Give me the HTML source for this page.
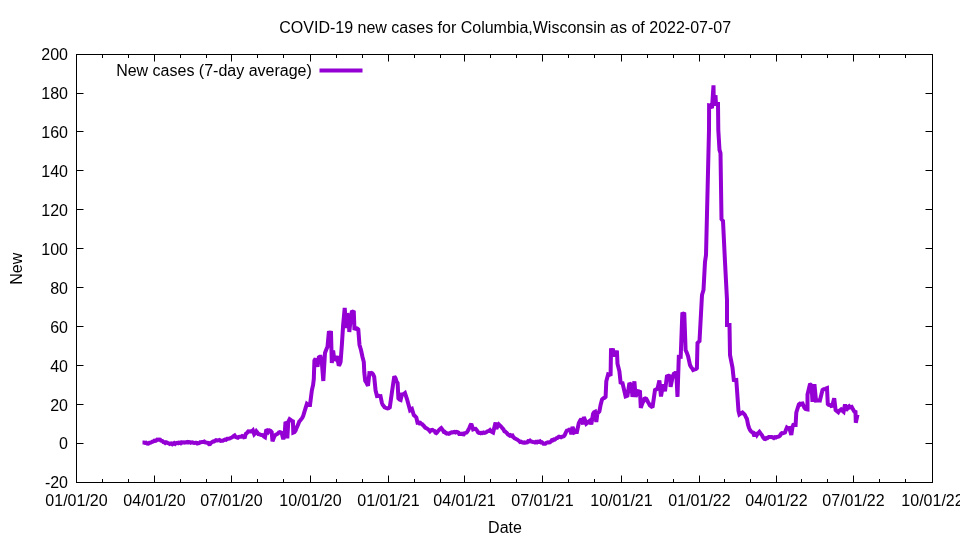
<!DOCTYPE html>
<html><head><meta charset="utf-8"><style>
html,body{margin:0;padding:0;background:#fff;width:960px;height:540px;overflow:hidden}
svg{display:block;will-change:transform}
text{font-family:"Liberation Sans", Arial, sans-serif;font-size:16px;fill:#000}
</style></head><body>
<svg width="960" height="540" viewBox="0 0 960 540">
<rect width="960" height="540" fill="#fff"/>
<text x="505.2" y="33" text-anchor="middle">COVID-19 new cases for Columbia,Wisconsin as of 2022-07-07</text>
<text x="311.8" y="76" text-anchor="end">New cases (7-day average)</text>
<path d="M319.5,70.5H362.5" stroke="#9400d3" stroke-width="4"/>
<path d="M142.5,442.4 L143.8,442.4 L145.0,442.9 L146.1,442.7 L147.2,443.6 L148.3,443.7 L149.4,442.7 L150.5,442.7 L151.4,442.3 L152.4,441.7 L153.3,441.5 L154.2,440.7 L155.1,441.0 L156.0,440.7 L157.1,439.7 L158.1,439.8 L159.2,439.5 L160.1,439.6 L161.0,440.7 L162.2,440.9 L163.3,442.0 L164.2,442.1 L165.2,442.9 L166.1,442.3 L167.1,442.6 L168.0,443.2 L168.9,443.4 L169.8,443.9 L170.7,443.5 L171.5,443.4 L172.4,444.2 L173.3,443.7 L174.2,443.1 L175.2,443.9 L176.1,443.1 L177.1,442.9 L178.0,443.2 L178.9,442.6 L179.8,442.7 L180.7,443.2 L181.5,442.3 L182.4,442.6 L183.3,442.4 L184.2,442.6 L185.2,442.3 L186.1,442.5 L187.1,442.0 L188.0,442.5 L188.9,442.0 L189.8,442.2 L190.7,442.8 L191.5,442.5 L192.4,442.4 L193.3,442.7 L194.3,442.9 L195.3,442.8 L196.3,442.8 L197.3,443.5 L198.3,443.2 L199.2,443.1 L200.1,442.2 L201.0,442.2 L202.1,442.1 L203.1,441.8 L204.2,441.5 L205.1,442.4 L206.1,442.6 L207.0,442.7 L208.0,442.9 L209.0,444.1 L210.0,444.0 L211.0,442.7 L212.0,442.2 L213.0,441.5 L214.0,441.5 L215.0,440.8 L216.1,440.2 L217.2,440.5 L218.3,440.4 L219.4,440.0 L220.6,440.9 L221.7,440.8 L222.8,440.7 L223.9,440.1 L225.0,439.6 L226.1,439.8 L227.2,438.8 L228.3,438.8 L229.4,438.6 L230.6,438.0 L231.7,437.5 L232.7,436.9 L233.6,436.0 L234.6,435.4 L235.6,436.9 L236.7,437.5 L237.8,437.8 L238.9,436.9 L240.0,436.7 L241.1,436.8 L242.2,435.9 L243.3,436.3 L244.6,438.3 L245.8,433.8 L247.1,432.8 L248.3,431.3 L249.6,431.5 L250.8,431.3 L251.9,431.4 L252.9,430.4 L254.2,434.2 L255.2,433.1 L256.3,431.3 L257.3,432.5 L258.3,434.2 L259.4,434.3 L260.6,434.9 L261.7,435.0 L262.8,435.1 L263.9,436.4 L265.0,437.1 L266.3,429.6 L267.3,430.5 L268.3,432.1 L269.6,430.4 L270.6,430.8 L271.7,432.1 L272.5,441.3 L274.2,436.7 L275.4,434.9 L276.7,434.2 L277.8,433.7 L278.8,432.5 L279.8,432.2 L280.7,432.5 L281.7,432.9 L283.3,439.2 L284.6,435.0 L285.4,423.3 L286.7,422.9 L287.3,438.3 L288.3,421.7 L289.6,419.2 L290.6,419.9 L291.7,420.8 L292.9,421.3 L293.3,432.5 L294.5,432.0 L295.6,430.6 L296.6,427.8 L297.5,425.9 L298.4,423.7 L299.4,421.3 L300.3,420.5 L301.2,419.2 L302.2,418.0 L303.1,416.3 L304.4,411.9 L306.9,403.8 L308.5,405.0 L310.0,405.0 L311.9,390.0 L313.1,385.0 L313.8,379.0 L314.4,360.5 L315.6,358.6 L317.5,366.8 L318.8,357.4 L319.7,356.8 L320.6,356.8 L321.9,363.0 L323.3,381.0 L325.0,353.0 L326.2,349.8 L327.5,346.8 L328.8,332.7 L329.9,332.5 L331.0,332.7 L331.8,363.0 L333.1,350.5 L334.4,360.5 L335.6,358.8 L336.9,356.1 L338.8,365.5 L339.7,364.2 L340.6,361.8 L341.9,344.3 L343.1,325.5 L344.7,308.0 L346.2,328.0 L347.2,313.5 L348.5,317.0 L349.3,332.0 L350.8,318.0 L351.8,312.0 L352.8,311.6 L353.8,312.0 L354.5,330.0 L355.5,328.0 L356.4,328.1 L357.4,328.7 L358.3,329.5 L359.5,345.0 L361.0,350.0 L362.5,357.0 L363.8,362.0 L364.3,372.5 L365.2,380.8 L366.1,382.1 L367.1,384.0 L368.0,385.7 L369.4,373.2 L370.3,373.3 L371.2,372.9 L372.1,373.2 L373.1,374.4 L374.2,376.7 L375.6,390.6 L377.0,396.1 L377.9,396.0 L378.8,395.9 L379.6,396.2 L380.5,396.1 L381.9,403.0 L382.8,405.0 L383.7,406.1 L384.6,407.3 L385.6,407.7 L386.5,408.2 L387.5,408.5 L388.6,408.1 L389.8,407.3 L391.9,392.5 L393.0,385.0 L394.3,376.3 L395.4,378.0 L396.5,381.2 L397.6,383.0 L398.4,398.5 L399.5,399.6 L400.6,400.0 L401.9,394.4 L402.9,394.4 L404.0,393.9 L405.0,393.1 L406.9,398.8 L410.0,410.0 L410.9,409.3 L411.9,408.8 L413.8,415.0 L415.1,416.1 L416.3,417.5 L417.5,422.5 L418.4,422.3 L419.4,423.3 L420.4,422.9 L421.3,423.8 L422.2,424.2 L423.1,425.3 L424.1,426.2 L425.0,427.5 L426.0,428.1 L427.0,428.5 L428.0,429.2 L429.0,430.1 L430.0,431.3 L431.2,430.1 L432.5,429.8 L433.4,430.5 L434.4,430.9 L435.4,432.7 L436.3,433.1 L437.3,432.2 L438.3,430.7 L439.3,429.8 L440.3,428.9 L441.3,428.1 L442.6,429.8 L443.8,431.9 L444.8,431.8 L445.8,433.1 L446.8,433.6 L447.8,433.4 L448.8,433.8 L449.7,433.5 L450.6,432.7 L451.6,432.3 L452.5,432.5 L453.4,432.2 L454.4,431.9 L455.4,432.4 L456.3,431.9 L457.2,432.0 L458.1,432.3 L459.1,433.9 L460.0,433.8 L460.9,434.0 L461.9,433.7 L462.9,434.3 L463.8,434.4 L464.7,433.1 L465.6,432.9 L466.6,432.6 L467.5,431.3 L468.4,429.9 L469.4,427.8 L470.4,425.4 L471.3,423.8 L473.1,429.4 L474.4,428.9 L475.6,428.8 L476.9,430.3 L478.1,432.5 L479.0,432.9 L479.9,432.8 L480.7,433.2 L481.6,432.8 L482.5,433.1 L483.5,432.4 L484.5,432.8 L485.5,432.6 L486.5,432.1 L487.5,431.3 L488.8,431.0 L490.0,430.0 L491.0,431.2 L492.1,432.0 L493.1,432.5 L495.6,422.5 L496.3,428.8 L497.6,426.3 L498.8,424.4 L500.1,425.7 L501.3,426.9 L502.3,428.2 L503.4,429.3 L504.4,431.3 L505.3,431.5 L506.2,432.5 L507.0,433.2 L507.9,434.5 L508.8,435.0 L509.7,435.7 L510.6,435.2 L511.6,436.0 L512.5,435.6 L513.5,437.3 L514.6,438.3 L515.6,438.8 L516.5,439.3 L517.4,439.7 L518.2,440.3 L519.1,440.9 L520.0,441.9 L520.9,441.6 L521.8,442.2 L522.7,442.6 L523.6,442.7 L524.5,442.3 L525.4,442.6 L526.3,442.5 L527.2,442.4 L528.1,441.1 L529.1,441.3 L530.0,440.6 L531.0,441.5 L532.0,441.7 L533.0,442.0 L534.0,442.1 L535.0,442.5 L536.0,441.9 L537.0,442.4 L538.0,441.6 L539.0,441.9 L540.0,441.3 L540.9,442.4 L541.8,442.2 L542.6,442.7 L543.5,443.8 L544.4,443.8 L545.3,443.8 L546.2,442.9 L547.0,442.6 L547.9,442.3 L548.8,442.5 L549.8,442.4 L550.8,441.6 L551.8,440.2 L552.8,440.4 L553.8,439.4 L554.7,439.6 L555.6,438.9 L556.5,438.1 L557.3,438.0 L558.2,437.2 L559.1,436.7 L560.0,436.9 L561.0,437.3 L561.9,436.8 L562.8,436.5 L563.8,436.3 L564.8,434.9 L565.9,432.4 L566.9,430.6 L567.9,430.4 L569.0,429.8 L570.0,428.8 L571.3,434.4 L572.5,426.9 L573.5,429.4 L574.4,432.5 L575.6,431.9 L576.9,431.9 L578.8,423.1 L580.0,420.7 L581.3,418.8 L583.1,424.4 L583.8,416.9 L585.0,420.0 L586.3,423.8 L587.2,423.1 L588.1,421.9 L589.1,421.3 L590.0,420.6 L591.3,424.4 L593.1,413.8 L594.0,412.4 L595.0,411.9 L596.3,421.9 L597.5,412.5 L598.5,412.4 L599.4,411.3 L600.6,405.0 L602.0,399.5 L602.9,398.7 L603.8,398.1 L604.7,397.7 L605.6,396.9 L606.3,381.3 L608.1,374.4 L609.4,374.9 L610.6,374.4 L611.0,350.0 L612.0,349.9 L613.1,350.0 L614.4,356.3 L615.6,354.0 L616.9,350.6 L617.5,363.8 L619.4,371.3 L620.6,382.5 L621.5,382.8 L622.5,383.1 L625.6,396.3 L626.5,396.0 L627.5,395.6 L629.4,383.1 L630.3,384.1 L631.3,385.0 L632.5,396.9 L634.4,381.3 L635.6,396.9 L636.9,393.5 L638.1,391.3 L639.0,391.5 L640.0,391.9 L640.8,407.8 L641.7,405.2 L642.6,402.7 L643.5,401.4 L644.4,398.8 L645.3,398.4 L646.3,398.8 L647.2,400.4 L648.1,402.4 L649.1,403.9 L650.0,405.5 L651.2,406.3 L652.5,407.5 L655.0,390.0 L656.2,389.4 L657.5,388.8 L659.4,380.5 L661.0,396.5 L663.1,384.4 L665.0,391.3 L666.9,376.3 L667.9,375.9 L669.0,375.8 L670.0,375.0 L670.6,386.9 L672.5,377.5 L673.8,373.8 L675.0,373.0 L676.3,373.1 L677.5,396.9 L678.8,357.0 L679.8,357.1 L680.7,357.0 L682.3,314.0 L683.3,313.7 L684.3,314.0 L685.6,350.0 L686.9,352.9 L688.1,356.3 L690.0,365.0 L691.0,367.0 L692.1,368.3 L693.1,370.0 L694.0,369.6 L695.0,369.4 L696.0,369.1 L696.9,368.1 L697.5,343.0 L698.5,341.9 L699.5,341.0 L702.0,295.0 L703.5,290.0 L705.0,262.0 L706.0,255.0 L707.5,193.0 L709.0,130.0 L709.1,105.3 L710.5,105.5 L712.0,108.2 L713.5,85.3 L713.7,97.0 L714.7,97.2 L715.6,97.1 L716.0,104.0 L717.0,104.0 L718.0,104.0 L718.3,130.0 L719.5,150.0 L720.5,153.0 L721.5,219.0 L723.0,221.0 L725.0,262.0 L727.0,300.0 L727.0,325.0 L728.2,325.0 L729.5,325.0 L730.0,355.0 L732.5,367.5 L733.8,380.0 L735.0,380.2 L736.3,380.0 L738.5,411.0 L739.4,414.4 L740.4,413.7 L741.5,413.2 L742.5,412.5 L743.8,413.7 L745.0,415.0 L746.0,417.4 L746.9,418.8 L748.1,425.0 L749.0,427.7 L750.0,430.0 L751.0,431.3 L752.1,432.2 L753.1,432.5 L754.4,436.3 L755.6,432.5 L756.9,435.0 L758.1,433.2 L759.4,431.9 L760.6,433.5 L761.9,435.0 L763.1,437.4 L764.4,438.8 L765.4,439.0 L766.5,437.9 L767.5,438.1 L768.8,437.0 L770.0,436.9 L771.0,437.1 L771.9,437.0 L772.8,437.5 L773.8,438.1 L774.8,437.2 L775.9,437.5 L776.9,436.9 L777.9,436.8 L779.0,436.5 L780.0,435.6 L781.0,433.9 L781.9,433.1 L782.9,433.2 L784.0,432.9 L785.0,432.5 L786.0,429.6 L786.9,427.5 L788.1,428.3 L789.4,428.1 L791.3,435.0 L792.5,426.9 L793.8,423.8 L794.7,425.0 L795.6,425.0 L796.3,412.5 L798.8,404.4 L799.7,403.8 L800.6,404.5 L801.6,403.6 L802.5,403.5 L803.5,405.7 L804.5,408.0 L805.5,409.1 L806.5,409.4 L807.5,409.5 L807.5,394.5 L809.8,385.0 L810.6,384.8 L811.5,385.5 L812.5,402.0 L813.5,386.0 L814.6,386.0 L816.0,400.5 L817.0,400.4 L818.0,400.5 L818.9,400.3 L819.9,400.5 L822.5,390.0 L823.6,389.3 L824.8,389.3 L825.9,388.5 L827.0,388.1 L827.8,404.0 L828.7,404.8 L829.6,405.0 L830.8,405.4 L831.9,407.0 L834.2,398.3 L835.6,410.0 L836.5,410.8 L837.4,411.4 L838.3,412.2 L839.2,410.7 L840.2,410.1 L841.1,409.4 L842.4,410.7 L843.6,411.7 L845.0,404.4 L846.1,410.6 L847.2,408.7 L848.3,406.7 L849.1,406.2 L850.0,407.4 L850.9,407.2 L851.7,406.9 L853.3,410.0 L854.4,411.6 L855.5,412.0 L855.8,422.8 L857.5,414.5" fill="none" stroke="#9400d3" stroke-width="4" stroke-linejoin="miter" stroke-miterlimit="2" stroke-linecap="butt"/>
<path d="M102.5,482.5v-3.5M102.5,54.5v3.5M128.5,482.5v-3.5M128.5,54.5v3.5M154.5,482.5v-7M154.5,54.5v7M180.5,482.5v-3.5M180.5,54.5v3.5M206.5,482.5v-3.5M206.5,54.5v3.5M231.5,482.5v-7M231.5,54.5v7M257.5,482.5v-3.5M257.5,54.5v3.5M283.5,482.5v-3.5M283.5,54.5v3.5M310.5,482.5v-7M310.5,54.5v7M336.5,482.5v-3.5M336.5,54.5v3.5M362.5,482.5v-3.5M362.5,54.5v3.5M388.5,482.5v-7M388.5,54.5v7M414.5,482.5v-3.5M414.5,54.5v3.5M440.5,482.5v-3.5M440.5,54.5v3.5M464.5,482.5v-7M464.5,54.5v7M490.5,482.5v-3.5M490.5,54.5v3.5M516.5,482.5v-3.5M516.5,54.5v3.5M542.5,482.5v-7M542.5,54.5v7M568.5,482.5v-3.5M568.5,54.5v3.5M594.5,482.5v-3.5M594.5,54.5v3.5M621.5,482.5v-7M621.5,54.5v7M647.5,482.5v-3.5M647.5,54.5v3.5M673.5,482.5v-3.5M673.5,54.5v3.5M699.5,482.5v-7M699.5,54.5v7M724.5,482.5v-3.5M724.5,54.5v3.5M750.5,482.5v-3.5M750.5,54.5v3.5M776.5,482.5v-7M776.5,54.5v7M801.5,482.5v-3.5M801.5,54.5v3.5M827.5,482.5v-3.5M827.5,54.5v3.5M853.5,482.5v-7M853.5,54.5v7M879.5,482.5v-3.5M879.5,54.5v3.5M905.5,482.5v-3.5M905.5,54.5v3.5M76.5,93.5h7M932.5,93.5h-7M76.5,131.5h7M932.5,131.5h-7M76.5,170.5h7M932.5,170.5h-7M76.5,209.5h7M932.5,209.5h-7M76.5,248.5h7M932.5,248.5h-7M76.5,287.5h7M932.5,287.5h-7M76.5,326.5h7M932.5,326.5h-7M76.5,365.5h7M932.5,365.5h-7M76.5,404.5h7M932.5,404.5h-7M76.5,443.5h7M932.5,443.5h-7" stroke="#000" stroke-width="1" fill="none"/>
<rect x="76.5" y="54.5" width="856.0" height="428.0" fill="none" stroke="#000" stroke-width="1"/>
<text x="154.5" y="505.8" text-anchor="middle">04/01/20</text><text x="231.5" y="505.8" text-anchor="middle">07/01/20</text><text x="310.5" y="505.8" text-anchor="middle">10/01/20</text><text x="388.5" y="505.8" text-anchor="middle">01/01/21</text><text x="464.5" y="505.8" text-anchor="middle">04/01/21</text><text x="542.5" y="505.8" text-anchor="middle">07/01/21</text><text x="621.5" y="505.8" text-anchor="middle">10/01/21</text><text x="699.5" y="505.8" text-anchor="middle">01/01/22</text><text x="776.5" y="505.8" text-anchor="middle">04/01/22</text><text x="853.5" y="505.8" text-anchor="middle">07/01/22</text><text x="76.5" y="505.8" text-anchor="middle">01/01/20</text><text x="932.5" y="505.8" text-anchor="middle">10/01/22</text><text x="68" y="60.3" text-anchor="end">200</text><text x="68" y="99.3" text-anchor="end">180</text><text x="68" y="138.3" text-anchor="end">160</text><text x="68" y="177.3" text-anchor="end">140</text><text x="68" y="216.3" text-anchor="end">120</text><text x="68" y="255.3" text-anchor="end">100</text><text x="68" y="294.3" text-anchor="end">80</text><text x="68" y="333.3" text-anchor="end">60</text><text x="68" y="372.3" text-anchor="end">40</text><text x="68" y="411.3" text-anchor="end">20</text><text x="68" y="449.3" text-anchor="end">0</text><text x="68" y="488.3" text-anchor="end">-20</text>
<text x="505" y="533" text-anchor="middle">Date</text>
<text transform="translate(22,268.8) rotate(-90)" text-anchor="middle">New</text>
</svg>
</body></html>
